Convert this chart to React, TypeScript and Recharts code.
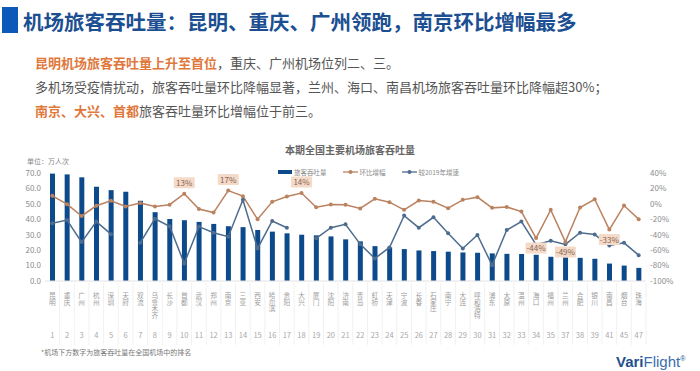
import { Bar, ComposedChart, LabelList, Line, XAxis, YAxis } from "recharts";

const airports = [
  "昆明", "重庆", "广州", "杭州", "深圳", "天府", "双流", "乌鲁木齐", "长沙", "首都",
  "武汉", "郑州", "南京", "三亚", "西安", "哈尔滨", "贵阳", "大兴", "厦门", "沈阳",
  "济南", "青岛", "虹桥", "天津", "宁波", "长春", "石家庄", "南宁", "大连", "呼和浩特",
  "浦东", "太原", "温州", "海口", "福州", "兰州", "合肥", "银川", "南昌", "烟台", "珠海",
];

const ranks = [
  1, 2, 3, 4, 5, 6, 7, 8, 9, 10, 11, 12, 13, 14, 15, 16, 17, 18, 19, 20, 21,
  22, 23, 24, 25, 26, 27, 28, 29, 30, 31, 32, 33, 34, 35, 37, 38, 39, 41, 45, 47,
];

// 旅客吞吐量（万人次）
const throughput = [
  69.6, 69.1, 67.2, 61.1, 58.9, 57.8, 52.0, 44.6, 40.2, 39.4, 38.3, 37.0, 35.5,
  34.9, 33.0, 32.0, 30.9, 30.0, 29.6, 28.9, 27.0, 25.7, 22.6, 21.8, 20.7, 19.8,
  19.4, 19.0, 18.5, 18.3, 17.9, 17.6, 17.5, 17.0, 15.7, 15.3, 15.0, 14.4, 11.3,
  10.0, 8.5,
];

// 环比增幅（%）
const momGrowth = [
  10.4, -0.4, -15.7, -2.5, 4.1, -3.5, 1.0, -3.5, -1.1, 13.2, -6.8, -11.3, 17.2,
  10.0, -20.0, 2.6, 9.5, 14.1, -4.3, -0.9, -1.3, -6.0, 6.5, 2.2, -7.8, 4.3, 2.6,
  -5.6, 5.2, 8.7, -5.2, -4.0, -10.0, -44.4, -7.8, -49.3, -4.8, 6.0, -33.4, -2.2,
  -19.8,
];

// 较2019年增速（%），新机场无对比
const vs2019 = [
  -25.2, -20.9, -49.6, -23.0, -39.3, null, -50.3, -19.3, -29.0, -77.3, -29.5,
  -37.4, -42.6, 5.2, -57.8, -22.2, -30.9, null, -44.7, -30.9, -26.5, -52.2,
  -70.8, -56.5, -15.2, -30.9, -17.4, -38.2, -57.8, -40.4, -79.5, -33.9, -23.0,
  -53.0, -47.8, -52.5, -37.4, -39.8, -54.0, -50.5, -66.5,
];

const leftTicks = [0, 10, 20, 30, 40, 50, 60, 70];
const rightTicks = [-100, -80, -60, -40, -20, 0, 20, 40];
const labelledAirports = ["首都", "南京", "大兴", "海口", "兰州", "南昌"];

const BAR_COLOR = "#0d4a8c";
const MOM_COLOR = "#bb8260";
const VS_COLOR = "#4d6c8e";
const FONT = '"Noto Sans CJK SC", "Noto Sans", sans-serif';

const data = airports.map((name, i) => ({
  name,
  throughput: throughput[i],
  mom: momGrowth[i],
  vs2019: vs2019[i],
}));

function AirportTick({ x, y, payload }: any) {
  const name = String(payload.value);
  const rank = ranks[airports.indexOf(name)];
  return (
    <g>
      <line stroke="#f1f1f1" x1={x + 7.3} x2={x + 7.3} y1={y + 2} y2={y + 64} />
      <text
        fill="#9d9d9d"
        fontSize={6.7}
        style={{ writingMode: "vertical-rl" }}
        x={x}
        y={y + 11}
      >
        {name}
      </text>
      <text fill="#a8a8a8" fontSize={7.5} textAnchor="middle" x={x} y={y + 57}>
        {rank}
      </text>
    </g>
  );
}

function PctLabel({ x, y, value, index }: any) {
  if (!labelledAirports.includes(airports[index])) return null;
  const cy = value > 0 ? y - 11 : y + 10;
  return (
    <g>
      <rect fill="#f4dac9" height={11} rx={1} width={21} x={x - 10.5} y={cy - 5.5} />
      <text fill="#8a6450" fontSize={8} textAnchor="middle" x={x} y={cy + 3}>
        {Math.round(value)}%
      </text>
    </g>
  );
}

function LegendItem({ kind, color, label }: { kind: "bar" | "line"; color: string; label: string }) {
  return (
    <span style={{ display: "flex", alignItems: "center", gap: 2, marginRight: 16 }}>
      {kind === "bar" ? (
        <span style={{ width: 14, height: 4, background: color, display: "inline-block" }} />
      ) : (
        <svg height={6} width={15}>
          <line stroke={color} strokeWidth={1.3} x1={0} x2={15} y1={3} y2={3} />
          <circle cx={7.5} cy={3} fill={color} r={2} />
        </svg>
      )}
      <span style={{ fontSize: 6.5, color: "#8a8a8a" }}>{label}</span>
    </span>
  );
}

export default function App() {
  return (
    <div
      style={{
        position: "relative",
        width: 700,
        height: 371,
        background: "#fff",
        fontFamily: FONT,
        overflow: "hidden",
      }}
    >
      <style>{"body{margin:0}"}</style>

      <div style={{ position: "absolute", left: 2, top: 7, width: 16, height: 26, background: "#0b59b8" }} />
      <div
        style={{
          position: "absolute",
          left: 23,
          top: 6,
          fontSize: 20.5,
          lineHeight: "30px",
          fontWeight: 700,
          color: "#1c4f92",
          whiteSpace: "nowrap",
        }}
      >
        机场旅客吞吐量：昆明、重庆、广州领跑，南京环比增幅最多
      </div>

      <div style={{ position: "absolute", left: 35, top: 51, fontSize: 13, lineHeight: "24px", color: "#555", whiteSpace: "nowrap" }}>
        <div>
          <span style={{ color: "#e0783c", fontWeight: 700 }}>昆明机场旅客吞吐量上升至首位</span>
          ，重庆、广州机场位列二、三。
        </div>
        <div>多机场受疫情扰动，旅客吞吐量环比降幅显著，兰州、海口、南昌机场旅客吞吐量环比降幅超30%；</div>
        <div>
          <span style={{ color: "#e0783c", fontWeight: 700 }}>南京、大兴、首都</span>
          旅客吞吐量环比增幅位于前三。
        </div>
      </div>

      <div
        style={{
          position: "absolute",
          left: 0,
          width: 700,
          top: 143,
          textAlign: "center",
          fontSize: 10,
          lineHeight: "14px",
          fontWeight: 700,
          color: "#666",
        }}
      >
        本期全国主要机场旅客吞吐量
      </div>
      <div style={{ position: "absolute", left: 27, top: 156, fontSize: 7, lineHeight: "10px", color: "#888" }}>
        单位：万人次
      </div>

      <ComposedChart
        data={data}
        height={371}
        margin={{ top: 173, right: 0, bottom: 0, left: 0 }}
        style={{ position: "absolute", left: 0, top: 0, fontFamily: FONT }}
        width={700}
      >
        <XAxis
          axisLine={{ stroke: "#e2e2e2" }}
          dataKey="name"
          height={90}
          interval={0}
          tick={<AirportTick />}
          tickLine={false}
          tickMargin={0}
          tickSize={0}
        />
        <YAxis
          axisLine={false}
          domain={[0, 70]}
          tick={{ fontSize: 8, fill: "#8c8c8c" }}
          tickFormatter={(v: number) => v.toFixed(1)}
          tickLine={false}
          tickMargin={2}
          tickSize={2}
          ticks={leftTicks}
          width={45}
          yAxisId="left"
        />
        <YAxis
          axisLine={false}
          domain={[-100, 40]}
          orientation="right"
          tick={{ fontSize: 8, fill: "#8c8c8c" }}
          tickFormatter={(v: number) => `${v}%`}
          tickLine={false}
          tickMargin={2}
          tickSize={2}
          ticks={rightTicks}
          width={54}
          yAxisId="right"
        />
        <Bar
          barSize={5}
          dataKey="throughput"
          fill={BAR_COLOR}
          isAnimationActive={false}
          name="旅客吞吐量"
          yAxisId="left"
        />
        <Line
          dataKey="vs2019"
          dot={{ r: 2, fill: VS_COLOR, stroke: "none" }}
          isAnimationActive={false}
          name="较2019年增速"
          stroke={VS_COLOR}
          strokeWidth={1.5}
          type="linear"
          yAxisId="right"
        />
        <Line
          dataKey="mom"
          dot={{ r: 2, fill: MOM_COLOR, stroke: "none" }}
          isAnimationActive={false}
          name="环比增幅"
          stroke={MOM_COLOR}
          strokeWidth={1.5}
          type="linear"
          yAxisId="right"
        >
          <LabelList content={<PctLabel />} dataKey="mom" />
        </Line>
      </ComposedChart>

      <div style={{ position: "absolute", left: 278, top: 167, display: "flex", alignItems: "center", height: 10 }}>
        <LegendItem color={BAR_COLOR} kind="bar" label="旅客吞吐量" />
        <LegendItem color={MOM_COLOR} kind="line" label="环比增幅" />
        <LegendItem color={VS_COLOR} kind="line" label="较2019年增速" />
      </div>

      <div style={{ position: "absolute", left: 41, top: 347, fontSize: 7, lineHeight: "10px", color: "#777" }}>
        *机场下方数字为旅客吞吐量在全国机场中的排名
      </div>
      <div
        style={{
          position: "absolute",
          left: 616,
          top: 350,
          fontSize: 15,
          lineHeight: "18px",
          fontFamily: '"Liberation Sans", Arial, sans-serif',
          whiteSpace: "nowrap",
        }}
      >
        <span style={{ color: "#1f4f8c", fontWeight: 700 }}>Vari</span>
        <span style={{ color: "#3a6db0" }}>Flight</span>
        <sup style={{ fontSize: 7, color: "#1f4f8c" }}>®</sup>
      </div>
    </div>
  );
}
